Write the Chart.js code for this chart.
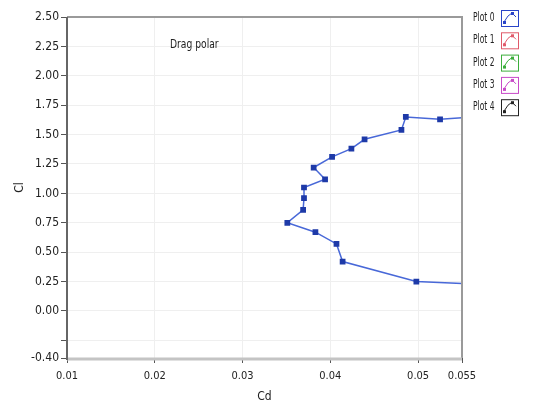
<!DOCTYPE html>
<html>
<head>
<meta charset="utf-8">
<script src="https://cdn.jsdelivr.net/npm/chart.js@4/dist/chart.umd.min.js"></script>
<style>
  html, body { margin: 0; padding: 0; background: #fff; }
  #wrap { width: 538px; height: 405px; }
</style>
</head>
<body>
<div id="wrap"><canvas id="polar-chart" width="538" height="405"></canvas></div>
<script>
// drag polar, Cd vs Cl
var cdValues = [0.0565, 0.0498, 0.0414, 0.0407, 0.0383, 0.0351, 0.0369, 0.0370, 0.0370, 0.0394,
                0.0381, 0.0402, 0.0424, 0.0439, 0.0481, 0.0486, 0.0525, 0.0565];
var clValues = [0.23, 0.25, 0.42, 0.57, 0.67, 0.75, 0.86, 0.96, 1.05, 1.12,
                1.22, 1.31, 1.38, 1.46, 1.54, 1.65, 1.63, 1.65];
var xTicks = [0.01, 0.02, 0.03, 0.04, 0.05, 0.055];
var yTicks = [-0.4, -0.25, 0, 0.25, 0.5, 0.75, 1, 1.25, 1.5, 1.75, 2, 2.25, 2.5];
var legendNames = ["Plot 0", "Plot 1", "Plot 2", "Plot 3", "Plot 4"];
var legendColors = ["#2a44c8", "#e05a6a", "#3cae3c", "#c84ac8", "#222222"];

var FONT = "'DejaVu Sans Condensed', 'DejaVu Sans', sans-serif";

var points = [];
for (let i = 0; i < cdValues.length; i++) {
  points.push({x: cdValues[i], y: clValues[i]});
}

// narrow text, the original uses a condensed UI font
function narrowText(c, txt, x, y, squeeze) {
  c.save();
  c.translate(x, y);
  c.scale(squeeze, 1);
  c.fillText(txt, 0, 0);
  c.restore();
}

// frame, title and the plot legend on the right
var extras = {
  id: 'extras',
  afterDraw: function(chart) {
    var c = chart.ctx;
    var a = chart.chartArea;
    c.save();
    // top / right frame
    c.strokeStyle = '#9a9a9a';
    c.lineWidth = 2;
    c.beginPath();
    c.moveTo(a.left, a.top);
    c.lineTo(a.right, a.top);
    c.lineTo(a.right, a.bottom);
    c.stroke();
    // bottom edge, thick light gray
    c.strokeStyle = '#c4c4c4';
    c.lineWidth = 3;
    c.beginPath();
    c.moveTo(a.left, a.bottom + 1);
    c.lineTo(a.right, a.bottom + 1);
    c.stroke();
    // left axis
    c.strokeStyle = '#666';
    c.lineWidth = 2;
    c.beginPath();
    c.moveTo(a.left, a.top);
    c.lineTo(a.left, a.bottom + 2);
    c.stroke();

    c.fillStyle = '#222';
    c.font = '12px ' + FONT;
    c.textBaseline = 'middle';
    c.textAlign = 'left';
    narrowText(c, 'Drag polar', 170, 45, 0.85);

    for (let i = 0; i < legendNames.length; i++) {
      var y = 18 + i * 22.3;
      c.fillStyle = '#222';
      c.font = '12px ' + FONT;
      narrowText(c, legendNames[i], 473, y, 0.7);
      var bx = 501, by = y - 8;
      c.fillStyle = '#fff';
      c.fillRect(bx, by, 17, 16);
      c.strokeStyle = legendColors[i];
      c.lineWidth = 1;
      c.strokeRect(bx + 0.5, by + 0.5, 17, 16);
      c.beginPath();
      c.moveTo(bx + 3, by + 12);
      c.lineTo(bx + 7, by + 6);
      c.lineTo(bx + 11, by + 3);
      c.lineTo(bx + 15, by + 7);
      c.stroke();
      c.fillStyle = legendColors[i];
      c.fillRect(bx + 2, by + 11, 3, 3);
      c.fillRect(bx + 10, by + 2, 3, 3);
    }
    c.restore();
  }
};

new Chart(document.getElementById('polar-chart'), {
  type: 'scatter',
  data: {
    datasets: [{
      label: 'Plot 0',
      data: points,
      showLine: true,
      borderColor: '#4868d8',
      borderWidth: 1.5,
      backgroundColor: '#1e3aa8',
      pointBackgroundColor: '#1e3aa8',
      pointBorderColor: '#1e3aa8',
      pointStyle: 'rect',
      pointRadius: 3,
      tension: 0
    }]
  },
  options: {
    responsive: false,
    animation: false,
    layout: {
      padding: {top: 17, right: 76, left: 0, bottom: 0}
    },
    plugins: {
      legend: { display: false },
      tooltip: { enabled: false }
    },
    scales: {
      x: {
        type: 'linear',
        min: 0.01,
        max: 0.055,
        afterBuildTicks: function(scale) {
          scale.ticks = xTicks.map(function(v) { return {value: v}; });
        },
        afterFit: function(scale) { scale.height = 47; },
        border: { display: false },
        grid: {
          color: '#efefef',
          tickColor: '#555',
          tickLength: 5
        },
        ticks: {
          color: '#222',
          font: { family: FONT, size: 11 },
          padding: 7,
          maxRotation: 0,
          callback: function(v) { return String(Math.round(v * 1000) / 1000); }
        },
        title: {
          display: true,
          text: 'Cd',
          color: '#222',
          font: { family: FONT, size: 12 },
          padding: {top: 2, bottom: 1}
        }
      },
      y: {
        type: 'linear',
        min: -0.4,
        max: 2.5,
        afterBuildTicks: function(scale) {
          scale.ticks = yTicks.map(function(v) { return {value: v}; });
        },
        afterFit: function(scale) { scale.width = 67; },
        border: { display: false },
        grid: {
          color: '#efefef',
          tickColor: '#555',
          tickLength: 6
        },
        ticks: {
          color: '#222',
          font: { family: FONT, size: 12 },
          padding: 2,
          callback: function(v) {
            if (v === -0.25) return '';
            return v.toFixed(2);
          }
        },
        title: {
          display: true,
          text: 'Cl',
          color: '#222',
          font: { family: FONT, size: 12 },
          padding: {top: 13, bottom: 4}
        }
      }
    }
  },
  plugins: [extras]
});
</script>
</body>
</html>
